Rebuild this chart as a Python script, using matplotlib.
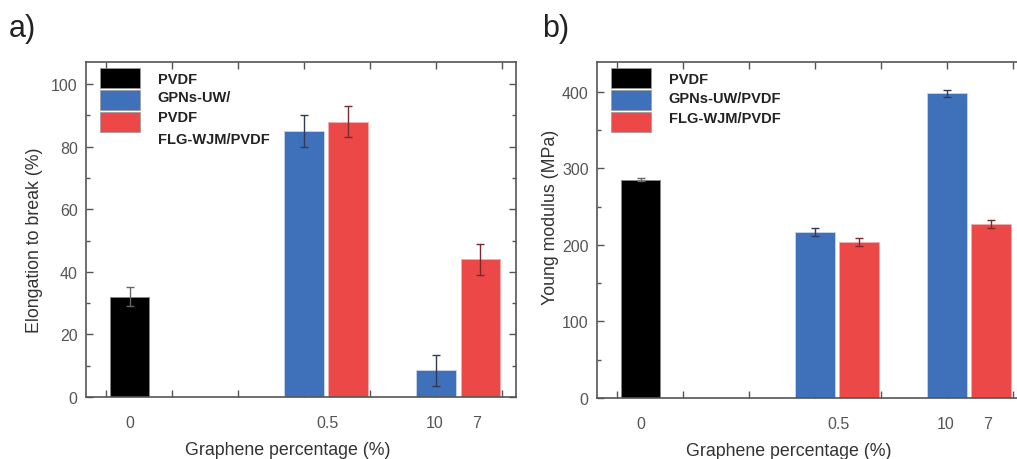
import matplotlib
matplotlib.use("Agg")
import matplotlib.pyplot as plt
from matplotlib.patches import Rectangle

plt.rcParams["font.family"] = ["Liberation Sans", "DejaVu Sans"]

# bar slots (positions along the axis, in tick units) and labels
slot_pvdf = [0.36]
slot_gpn = [3.0, 5.0]
slot_flg = [3.67, 5.67]
label_pos = [0.37, 3.36, 4.98, 5.62]
label_txt = ["0", "0.5", "10", "7"]

# a) elongation to break (%)
elong_pvdf = [32]
elong_pvdf_err = [3]
elong_gpn = [85, 8.5]
elong_gpn_err = [5, 5]
elong_flg = [88, 44]
elong_flg_err = [5, 5]

# b) Young modulus (MPa)
young_pvdf = [285]
young_pvdf_err = [2]
young_gpn = [217, 398]
young_gpn_err = [5, 5]
young_flg = [204, 227]
young_flg_err = [5, 5]

BLACK = "#000000"
BLUE = "#3F70BA"
RED = "#EC4848"
SPINE = "#555555"
TICKTXT = "#555555"

fig = plt.figure(figsize=(10.17, 4.6), dpi=100)
ax_a = fig.add_axes([0.0846, 0.1348, 0.4228, 0.728])
ax_b = fig.add_axes([0.587, 0.1326, 0.4228, 0.7304])


def draw_panel(ax, pvdf, pvdf_err, gpn, gpn_err, flg, flg_err, ylim, major, minor):
    w = 0.6
    ax.bar(slot_pvdf, pvdf, w, color=BLACK, edgecolor="#888888", linewidth=0.6, zorder=2)
    ax.bar(slot_gpn, gpn, w, color=BLUE, edgecolor="#c8d4ea", linewidth=0.6, zorder=2)
    ax.bar(slot_flg, flg, w, color=RED, edgecolor="#f0b0b0", linewidth=0.6, zorder=2)
    ax.errorbar(slot_pvdf, pvdf, yerr=pvdf_err, fmt="none", ecolor="#666666",
                elinewidth=1, capsize=3, capthick=1, zorder=3)
    ax.errorbar(slot_gpn, gpn, yerr=gpn_err, fmt="none", ecolor="#333a55",
                elinewidth=1, capsize=3, capthick=1, zorder=3)
    ax.errorbar(slot_flg, flg, yerr=flg_err, fmt="none", ecolor="#7a2a2a",
                elinewidth=1, capsize=3, capthick=1, zorder=3)

    ax.set_xlim(-0.3, 6.21)
    ax.set_ylim(*ylim)
    ax.set_xticks(range(7))
    ax.set_xticklabels([])
    ax.set_xticks(label_pos, label_txt, minor=True)
    ax.tick_params(axis="x", which="major", direction="in", length=5, width=1,
                   top=True, bottom=True, color=SPINE)
    ax.tick_params(axis="x", which="minor", length=0, pad=13, labelsize=11.5,
                   labelcolor=TICKTXT)
    ax.set_yticks(major)
    ax.set_yticks(minor, minor=True)
    ax.tick_params(axis="y", which="both", direction="in", left=True, right=True,
                   color=SPINE, width=1)
    ax.tick_params(axis="y", which="major", length=5, labelsize=11.5,
                   labelcolor=TICKTXT, pad=6)
    ax.tick_params(axis="y", which="minor", length=3)
    for s in ax.spines.values():
        s.set_color(SPINE)
        s.set_linewidth(1.2)
    ax.set_xlabel("Graphene percentage (%)", fontsize=12.8, color="#333333")


def draw_legend(ax, labels, text_y):
    fx = 0.033
    for i, c in enumerate([BLACK, BLUE, RED]):
        top = 0.982 - i * 0.066
        ax.add_patch(Rectangle((fx, top - 0.059), 0.093, 0.059, transform=ax.transAxes,
                               facecolor=c, edgecolor="#999999", linewidth=0.5,
                               zorder=4))
    for t, y in zip(labels, text_y):
        ax.text(0.167, y, t, transform=ax.transAxes, fontsize=10.5, weight="bold",
                color="#222222", va="center", ha="left")


draw_panel(ax_a, elong_pvdf, elong_pvdf_err, elong_gpn, elong_gpn_err,
           elong_flg, elong_flg_err, (0, 107), range(0, 101, 20), range(10, 101, 20))
ax_a.set_ylabel("Elongation to break (%)", fontsize=12.8, color="#333333")
ax_a.yaxis.set_label_coords(-0.10, 0.47)
ax_a.xaxis.set_label_coords(0.47, -0.132)
draw_legend(ax_a, ["PVDF", "GPNs-UW/", "PVDF", "FLG-WJM/PVDF"],
            [0.949, 0.896, 0.836, 0.770])

draw_panel(ax_b, young_pvdf, young_pvdf_err, young_gpn, young_gpn_err,
           young_flg, young_flg_err, (0, 439), range(0, 401, 100), range(50, 401, 100))
ax_b.spines["right"].set_visible(False)
ax_b.tick_params(axis="y", which="both", right=False)
ax_b.set_ylabel("Young modulus (MPa)", fontsize=12.8, color="#333333")
ax_b.yaxis.set_label_coords(-0.088, 0.54)
ax_b.xaxis.set_label_coords(0.445, -0.132)
draw_legend(ax_b, ["PVDF", "GPNs-UW/PVDF", "FLG-WJM/PVDF"],
            [0.949, 0.893, 0.834])

fig.text(0.009, 0.938, "a)", fontsize=22, color="#222222", va="center")
fig.text(0.533, 0.938, "b)", fontsize=22, color="#222222", va="center")

fig.savefig("out.png", dpi=100)
